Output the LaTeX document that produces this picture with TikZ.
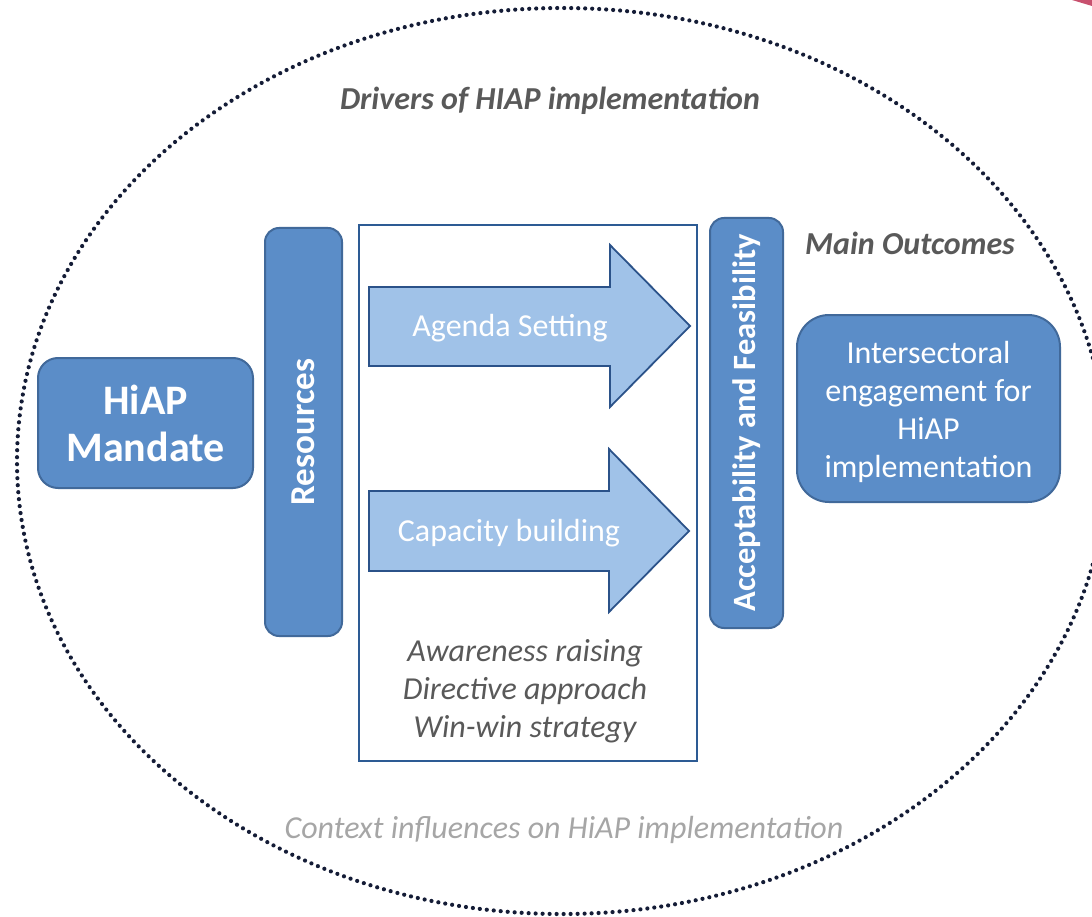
\documentclass[tikz,border=0pt]{standalone}
\usepackage{fontspec}
\setmainfont{Carlito}
\definecolor{boxfill}{HTML}{5B8DC8}
\definecolor{boxborder}{HTML}{41699A}
\definecolor{arrowfill}{HTML}{A0C2E8}
\definecolor{arrowborder}{HTML}{2B5289}
\definecolor{outerborder}{HTML}{2D5B94}
\definecolor{dotcol}{HTML}{141C36}
\definecolor{darkgray}{HTML}{595959}
\definecolor{lightgray}{HTML}{A6A6A6}
\definecolor{redart}{HTML}{C8506E}
\begin{document}
\begin{tikzpicture}[x=1pt,y=-1pt,
  bluebox/.style={draw=boxborder, line width=2pt, fill=boxfill, rounded corners=18pt, inner sep=0pt},
  arrowshape/.style={draw=arrowborder, line width=1.8pt, fill=arrowfill, line join=miter},
  txt/.style={font=\fontsize{32}{38}\selectfont, align=center, inner sep=0pt},
  whitetxt/.style={txt, text=white},
  boldwhite/.style={whitetxt, font=\fontsize{35}{38}\selectfont\bfseries},
  headtxt/.style={txt, text=darkgray, font=\fontsize{32}{38}\selectfont\bfseries\itshape},
  dotline/.style={draw=dotcol, line width=4.2pt, dash pattern=on 0pt off 7pt, line cap=round}
]
\useasboundingbox (0,0) rectangle (1092,917);
\fill[redart] (1072,0) -- (1092,0) -- (1092,6) -- cycle;
% ellipse
\draw[dotline] (562,461) ellipse [x radius=545, y radius=453];
% headings
\node[headtxt] (drivers) at (550,101) {Drivers of HIAP implementation};
\node[headtxt] (mainout) at (910,243) {Main Outcomes};
\node[txt, text=lightgray, font=\fontsize{32}{38}\selectfont\itshape] (context) at (564,830) {Context influences on HiAP implementation};
% boxes
\node[bluebox, minimum width=215pt, minimum height=130pt, rounded corners=20pt] (mandate) at (145.5,423) {};
\node[whitetxt, font=\fontsize{42}{47}\selectfont\bfseries] (mandatetxt) at (mandate) {HiAP\\Mandate};
\node[bluebox, minimum width=77pt, minimum height=408pt, rounded corners=14pt] (resources) at (303.5,432) {};
\node[boldwhite, rotate=90] (resourcestxt) at (resources) {Resources};
\node[draw=outerborder, line width=2pt, fill=white, minimum width=338pt, minimum height=536pt, inner sep=0pt] (outer) at (528,493) {};
\node[bluebox, minimum width=73pt, minimum height=410pt, rounded corners=14pt] (accept) at (746.5,423) {};
\node[whitetxt, font=\fontsize{32.5}{38}\selectfont\bfseries, rotate=90] (accepttxt) at (accept) {Acceptability and Feasibility};
\node[bluebox, minimum width=263pt, minimum height=187pt, rounded corners=32pt] (outcome) at (928.5,408.5) {};
\node[whitetxt] (outcometxt) at (928.5,412) {Intersectoral\\engagement for\\HiAP\\implementation};
% arrows
\draw[arrowshape] (369,287) -- (610,287) -- (610,245) -- (690,326) -- (610,407) -- (610,366) -- (369,366) -- cycle;
\node[whitetxt] (agenda) at (510,328) {Agenda Setting};
\draw[arrowshape] (369,491) -- (609,491) -- (609,449) -- (689,531) -- (609,612) -- (609,571) -- (369,571) -- cycle;
\node[whitetxt] (capacity) at (509,533) {Capacity building};
% strategies
\node[txt, text=darkgray, font=\fontsize{32}{38}\selectfont\itshape] (strategies) at (525,691) {Awareness raising\\Directive approach\\Win-win strategy};
\end{tikzpicture}
\end{document}
